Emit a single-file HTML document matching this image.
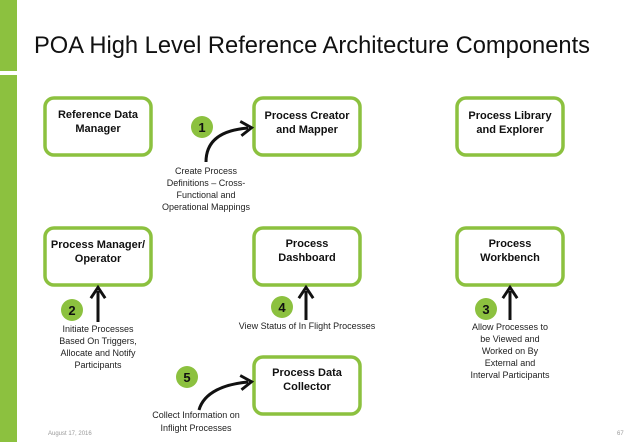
<!DOCTYPE html>
<html><head><style>
html,body{margin:0;padding:0;background:#fff;width:638px;height:442px;overflow:hidden}
svg{display:block}
.t{font-family:"Liberation Sans",sans-serif}
.b{font-weight:bold;font-size:11px;fill:#111}
.s{font-size:9px;fill:#222}
.n{font-weight:bold;font-size:13px;fill:#111}
</style></head><body>
<svg width="638" height="442" viewBox="0 0 638 442" class="t">
<defs><marker id="a" viewBox="0 0 10 10" refX="5" refY="5" markerWidth="6" markerHeight="6" orient="auto"><path d="M1,1 L7,5 L1,9" fill="none" stroke="#111" stroke-width="1.6"/></marker></defs>
<rect x="0" y="0" width="17" height="71" fill="#8cc13f"/>
<rect x="0" y="75" width="17" height="367" fill="#8cc13f"/>
<text x="34" y="53" font-size="24" fill="#111" textLength="556" lengthAdjust="spacingAndGlyphs">POA High Level Reference Architecture Components</text>
<g fill="#fff" stroke="#8cc13f" stroke-width="3.5">
<rect x="45" y="98" width="106" height="57" rx="9"/>
<rect x="254" y="98" width="106" height="57" rx="9"/>
<rect x="457" y="98" width="106" height="57" rx="9"/>
<rect x="45" y="228" width="106" height="57" rx="9"/>
<rect x="254" y="228" width="106" height="57" rx="9"/>
<rect x="457" y="228" width="106" height="57" rx="9"/>
<rect x="254" y="357" width="106" height="57" rx="9"/>
</g>
<g class="b" text-anchor="middle">
<text x="98" y="118">Reference Data</text><text x="98" y="132">Manager</text>
<text x="307" y="119">Process Creator</text><text x="307" y="133">and Mapper</text>
<text x="510" y="119">Process Library</text><text x="510" y="133">and Explorer</text>
<text x="98" y="248">Process Manager/</text><text x="98" y="262">Operator</text>
<text x="307" y="247">Process</text><text x="307" y="261">Dashboard</text>
<text x="510" y="247">Process</text><text x="510" y="261">Workbench</text>
<text x="307" y="376">Process Data</text><text x="307" y="390">Collector</text>
</g>
<g fill="#8cc13f">
<circle cx="202" cy="127" r="11"/><circle cx="72" cy="310" r="11"/><circle cx="282" cy="307" r="11"/><circle cx="486" cy="309" r="11"/><circle cx="187" cy="377" r="11"/>
</g>
<g class="n" text-anchor="middle">
<text x="202" y="132">1</text><text x="72" y="315">2</text><text x="282" y="312">4</text><text x="486" y="314">3</text><text x="187" y="382">5</text>
</g>
<g stroke="#111" stroke-width="3" fill="none" marker-end="url(#a)">
<path d="M206,162 C206,140 222,130 248,128"/>
<path d="M98,322 L98,291"/>
<path d="M306,320 L306,291"/>
<path d="M510,320 L510,291"/>
<path d="M199,410 C204,392 225,384 248,382"/>
</g>
<g class="s" text-anchor="middle">
<text x="206" y="174">Create Process</text><text x="206" y="186">Definitions – Cross-</text><text x="206" y="198">Functional and</text><text x="206" y="210">Operational Mappings</text>
<text x="98" y="332">Initiate Processes</text><text x="98" y="344">Based On Triggers,</text><text x="98" y="356">Allocate and Notify</text><text x="98" y="368">Participants</text>
<text x="307" y="329">View Status of In Flight Processes</text>
<text x="510" y="330">Allow Processes to</text><text x="510" y="342">be Viewed and</text><text x="510" y="354">Worked on By</text><text x="510" y="366">External and</text><text x="510" y="378">Interval Participants</text>
<text x="196" y="418">Collect Information on</text><text x="196" y="431">Inflight Processes</text>
</g>
<text x="48" y="435" font-size="6" fill="#999">August 17, 2016</text>
<text x="617" y="435" font-size="6" fill="#999">67</text>
</svg>
</body></html>
